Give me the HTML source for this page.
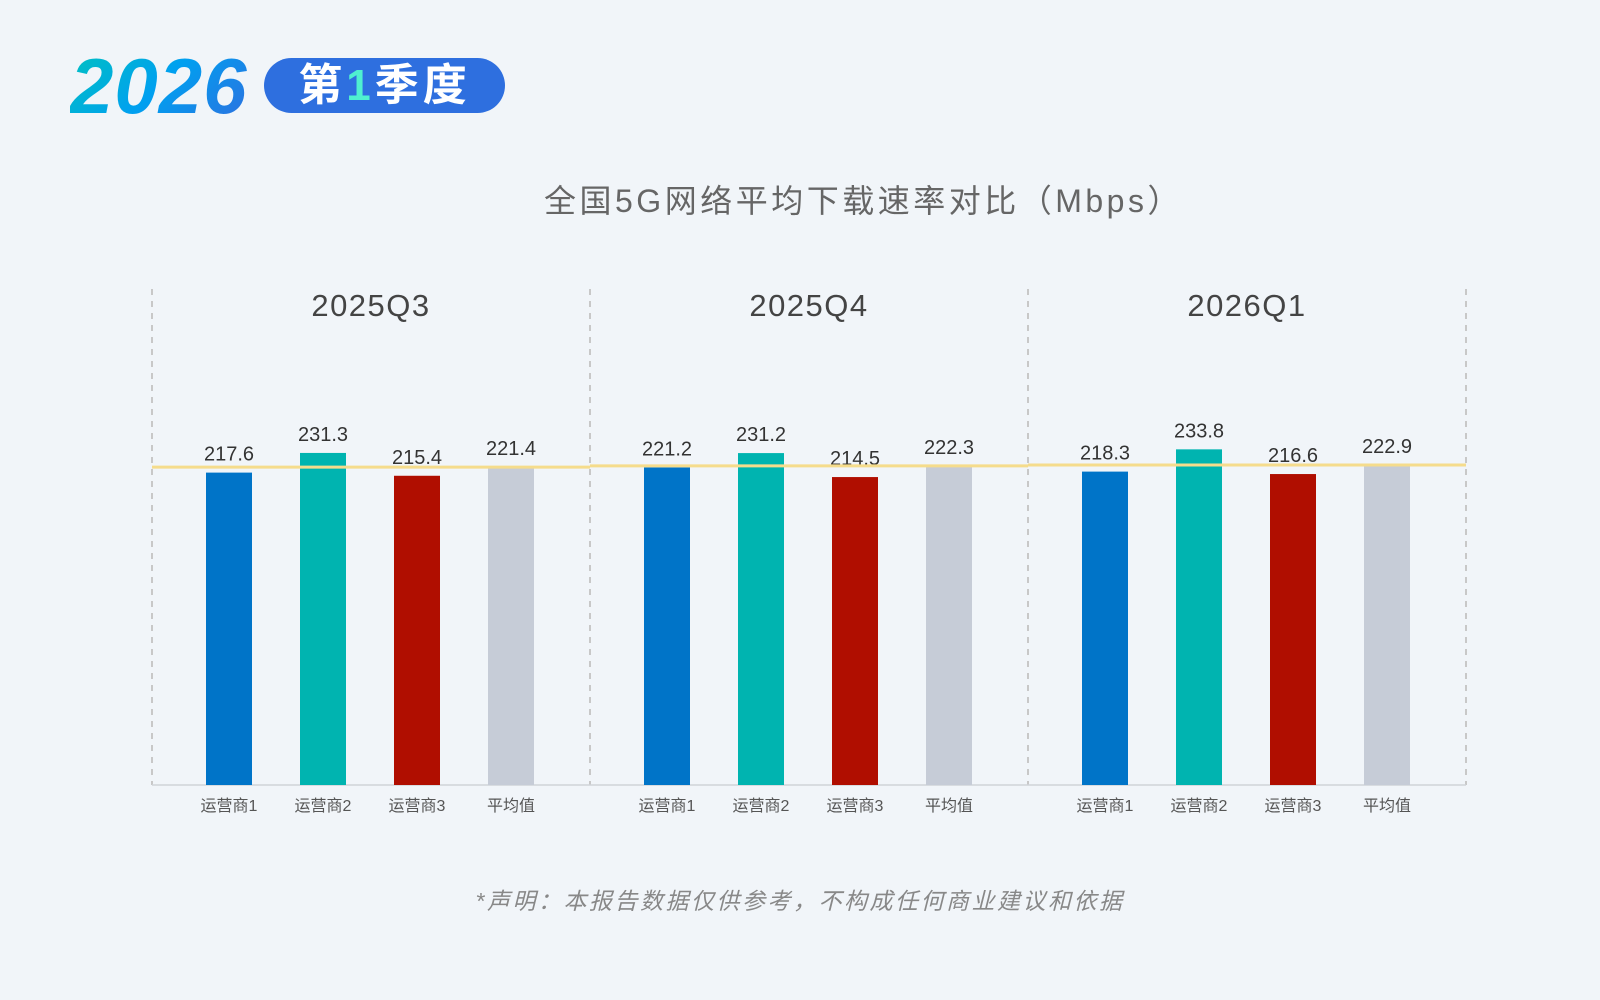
<!DOCTYPE html>
<html><head><meta charset="utf-8"><style>
body{margin:0;width:1600px;height:1000px;background:#f1f5f9;overflow:hidden;font-family:"Liberation Sans","Noto Sans CJK SC",sans-serif;}
#hdr{position:absolute;left:70px;top:48px;font-size:78px;font-weight:bold;font-style:italic;letter-spacing:1px;background:linear-gradient(135deg,#00c2c0,#00a0f0 50%,#2e6fdf);-webkit-background-clip:text;background-clip:text;color:transparent;line-height:76px;}
#pill{position:absolute;left:264px;top:58px;width:241px;height:55px;border-radius:28px;background:#2e6fdf;color:#fff;font-size:44px;line-height:55px;text-align:center;font-weight:bold;letter-spacing:4px;}
#pill span{color:#4ff0d0}
#title{position:absolute;left:544px;width:620px;top:176px;text-align:center;font-size:32px;color:#666;letter-spacing:3.5px;white-space:nowrap;}
#disc{position:absolute;left:0;width:1600px;top:882px;text-align:center;font-size:23px;color:#888;font-style:italic;letter-spacing:2.5px;padding-left:0;}
</style></head><body>
<div id="hdr">2026</div>
<div id="pill">第<span>1</span>季度</div>
<div id="title">全国5G网络平均下载速率对比（Mbps）</div>
<svg id="chart" width="1600" height="1000" style="position:absolute;left:0;top:0"></svg>
<div id="disc">*声明：本报告数据仅供参考，不构成任何商业建议和依据</div>
<script>
const groups=["2025Q3","2025Q4","2026Q1"];
const categories=["运营商1","运营商2","运营商3","平均值"];
const values=[[217.6,231.3,215.4,221.4],[221.2,231.2,214.5,222.3],[218.3,233.8,216.6,222.9]];
const colors=["#0074c8","#00b4b0","#b00e00","#c6ccd7"];
const NS="http://www.w3.org/2000/svg",svg=document.getElementById("chart");
const x0=152,gw=438,base=785,k=320/222.9;
const y=v=>base-v*k;
function mk(t,a){const e=document.createElementNS(NS,t);for(const p in a)e.setAttribute(p,a[p]);svg.appendChild(e);return e;}
for(let g=0;g<=groups.length;g++){
 const l=mk("line",{x1:x0+g*gw,x2:x0+g*gw,y1:289,y2:base,stroke:"#c8c8c8","stroke-width":2,"stroke-dasharray":"6,6"});
 
 
}
const ax=mk("line",{x1:x0,x2:x0+gw*groups.length,y1:base,y2:base,stroke:"#cfd3d8","stroke-width":1.5});


groups.forEach((gname,g)=>{
 const gx=x0+g*gw;
 const t=mk("text",{x:gx+gw/2,y:316,"text-anchor":"middle","font-size":31,fill:"#444","letter-spacing":1.5});
 t.textContent=gname;
 
 
 categories.forEach((c,i)=>{
  const v=values[g][i],cx=gx+77+i*94;
  const r=mk("rect",{x:cx-23,y:y(v),width:46,height:base-y(v),fill:colors[i]});
  
  
  const vt=mk("text",{x:cx,y:y(v)-12,"text-anchor":"middle","font-size":20,fill:"#333"});
  vt.textContent=v.toFixed(1);
  
  
  const ct=mk("text",{x:cx,y:811,"text-anchor":"middle","font-size":16,fill:"#555"});
  ct.textContent=c;
  
  
 });
 const av=values[g][3];
 const al=mk("line",{x1:gx,x2:gx+gw,y1:y(av),y2:y(av),stroke:"#f5dc8c","stroke-width":3});
 
 
});
</script>
</body></html>
